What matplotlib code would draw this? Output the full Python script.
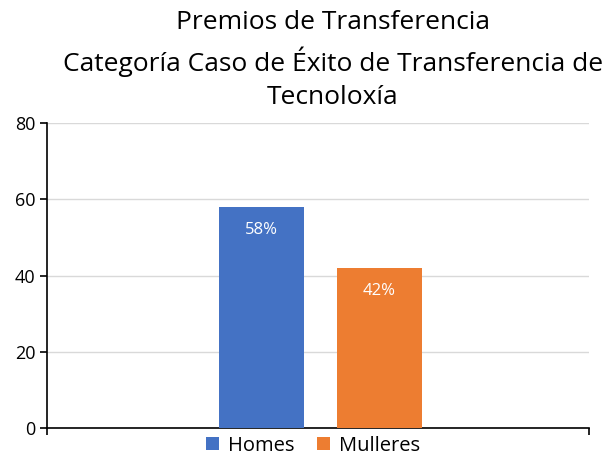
import matplotlib.pyplot as plt
import numpy as np

plt.rcParams['font.family'] = ['Open Sans', 'DejaVu Sans']

series = ["Homes", "Mulleres"]
values = [58, 42]
labels = ["58%", "42%"]
colors = ["#4472C4", "#ED7D31"]

fig = plt.figure(figsize=(6.08, 4.61), dpi=100)
ax = fig.add_axes([0.0773, 0.0716, 0.8915, 0.6614])

offsets = [-0.105, 0.113]
width = 0.157
for off, v, lab, c, name in zip(offsets, values, labels, colors, series):
    b = ax.bar(off, v, width=width, color=c, label=name, zorder=3)
    ax.text(off, v - 6, lab, ha="center", va="center", color="white", fontsize=12)

ax.set_xlim(-0.5, 0.5)
ax.set_ylim(0, 80)
ax.set_yticks([0, 20, 40, 60, 80])
ax.set_xticks([-0.5, 0.5])
ax.set_xticklabels([])
ax.yaxis.grid(True, color="#d9d9d9", linewidth=1, zorder=0)
ax.tick_params(axis="y", labelsize=13, length=5, width=1.2, colors="black")
ax.tick_params(axis="x", length=5, width=1.2)
for s in ["top", "right"]:
    ax.spines[s].set_visible(False)
ax.spines["left"].set_linewidth(1.2)
ax.spines["bottom"].set_linewidth(1.2)

fig.suptitle("Premios de Transferencia\nCategoría Caso de Éxito de Transferencia de\nTecnoloxía",
             x=0.547, y=0.978, fontsize=19, linespacing=1.45)

fig.legend(loc="lower center", bbox_to_anchor=(0.515, -0.028), ncol=2, frameon=False,
           fontsize=14.5, handlelength=0.65, handleheight=0.65, handletextpad=0.45,
           columnspacing=1.1)

fig.savefig("out.png", dpi=100)
